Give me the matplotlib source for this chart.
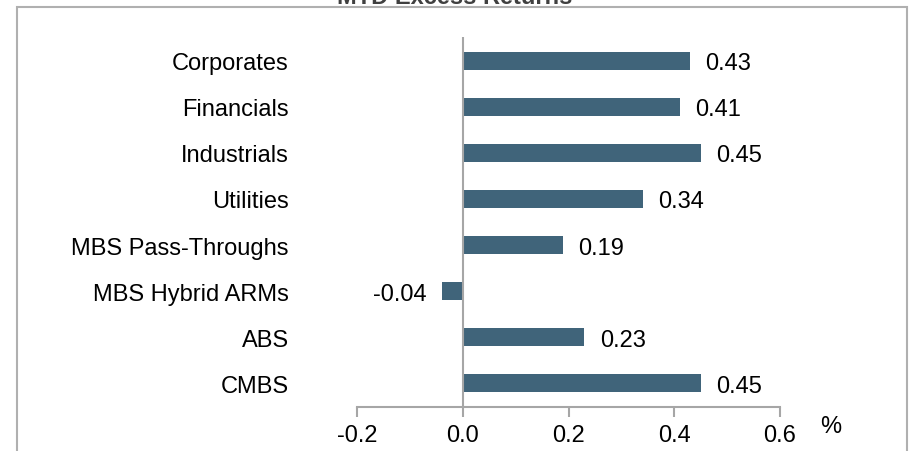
import matplotlib.pyplot as plt
from matplotlib.patches import Rectangle

plt.rcParams['font.family'] = ['Liberation Sans', 'DejaVu Sans']

# Sektory od gory do dolu
sectors = ['Corporates', 'Financials', 'Industrials', 'Utilities',
           'MBS Pass-Throughs', 'MBS Hybrid ARMs', 'ABS', 'CMBS']
excess = [0.43, 0.41, 0.45, 0.34, 0.19, -0.04, 0.23, 0.45]
xticks = [-0.2, 0.0, 0.2, 0.4, 0.6]

bar_color = '#40647A'
grey = '#A6A6A6'
fs = 17

fig = plt.figure(figsize=(9.11, 4.52), dpi=100)
ax = fig.add_axes([357 / 911, 44 / 452, 423 / 911, 370 / 452])

# odwracamy kolejnosc zeby Corporates bylo na gorze
ypos = list(range(len(sectors)))[::-1]
bars = ax.barh(ypos, excess, height=0.39, color=bar_color)
lbls = ax.bar_label(bars, labels=['%.2f' % v for v in excess], padding=11, fontsize=fs)
for t in lbls:
    t.set_va('center_baseline')

ax.set_xlim(-0.2, 0.6)
ax.set_ylim(-0.52, 7.52)
ax.set_xticks(xticks)
ax.set_xticklabels(['%.1f' % t for t in xticks])
ax.set_yticks(ypos)
ax.set_yticklabels(sectors)

for s in ['top', 'right', 'left']:
    ax.spines[s].set_visible(False)
ax.spines['bottom'].set_color(grey)
ax.spines['bottom'].set_linewidth(1.5)
ax.axvline(0, color=grey, lw=1.5)

ax.tick_params(axis='x', direction='out', length=7, width=1.5, color=grey,
               labelsize=fs, pad=5)
ax.tick_params(axis='y', length=0, labelsize=fs, pad=49)

ax.text(1.0 + 40 / 423, -19 / 370, '%', transform=ax.transAxes, fontsize=fs,
        ha='left', va='center')

# ramka wokol wykresu
fig.patches.append(Rectangle((17 / 911, -0.1), 890 / 911, 1.1 - 8 / 452,
                             transform=fig.transFigure, fill=False,
                             edgecolor='#B0B0B0', lw=1.5))
fig.text(455 / 911, 1 - 4 / 452, 'MTD Excess Returns', ha='center',
         va='baseline', fontsize=17, fontweight='bold', color='#404040')

fig.savefig('out.png', dpi=100)
